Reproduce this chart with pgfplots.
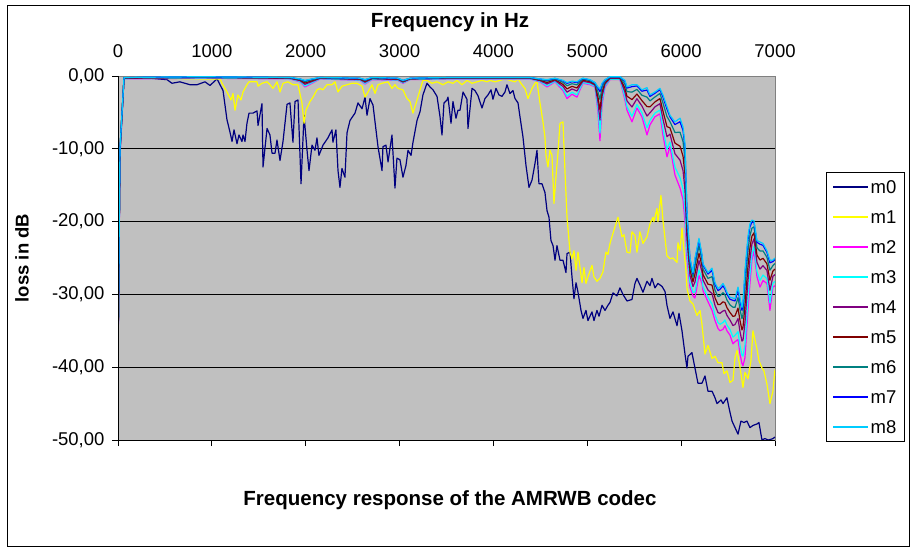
\documentclass[border=0pt]{standalone}
\usepackage{fontspec}
\setmainfont{Liberation Sans}
\usepackage{pgfplots}
\usepackage{pgfplotstable}
\pgfplotsset{compat=1.18}
\definecolor{bg}{HTML}{C0C0C0}
\definecolor{frame}{HTML}{808080}
\definecolor{cm0}{HTML}{000080}
\definecolor{cm1}{HTML}{FFFF00}
\definecolor{cm2}{HTML}{FF00FF}
\definecolor{cm3}{HTML}{00FFFF}
\definecolor{cm4}{HTML}{800080}
\definecolor{cm5}{HTML}{800000}
\definecolor{cm6}{HTML}{008080}
\definecolor{cm7}{HTML}{0000FF}
\definecolor{cm8}{HTML}{00CCFF}

\pgfplotstableread{
f y
0 -39
21 -10
64 -0.3
234 -0.2
522 -0.5
575 -1.0
660 -0.8
767 -1.2
842 -1.2
927 -0.8
980 -1.3
1055 -0.4
1119 -2.0
1161 -6.0
1193 -7.7
1215 -9.0
1236 -7.4
1268 -9.3
1289 -8.1
1321 -9.0
1332 -8.1
1353 -9.0
1374 -6.5
1396 -5.1
1438 -5.1
1481 -4.8
1492 -6.8
1534 -3.8
1545 -12.5
1588 -7.2
1619 -8.1
1641 -10.6
1673 -10.6
1694 -8.8
1726 -11.6
1758 -9.0
1801 -3.9
1832 -3.7
1864 -9.1
1886 -3.5
1918 -3.3
1950 -14.8
1982 -5.4
2014 -10.2
2035 -13.0
2067 -9.5
2099 -10.2
2120 -8.5
2141 -10.9
2184 -9.5
2237 -8.5
2280 -7.4
2290 -9.1
2322 -7.4
2344 -13.0
2365 -15.3
2386 -12.7
2418 -13.9
2440 -7.8
2472 -6.1
2525 -5.1
2557 -3.7
2600 -4.5
2632 -2.9
2653 -5.4
2685 -3.1
2717 -4.0
2770 -9.7
2813 -13.0
2823 -9.7
2855 -9.5
2877 -11.8
2919 -8.1
2951 -15.4
2972 -11.3
3004 -11.5
3036 -13.9
3068 -12.3
3090 -10.2
3122 -10.9
3143 -9.1
3186 -6.1
3218 -4.9
3249 -2.6
3292 -1.0
3324 -1.5
3356 -1.9
3399 -2.8
3431 -5.6
3452 -8.1
3473 -3.7
3505 -3.3
3516 -2.9
3548 -6.5
3569 -3.5
3601 -5.8
3622 -4.7
3644 -4.7
3676 -2.2
3718 -3.2
3729 -7.2
3772 -1.7
3803 -2.0
3835 -2.7
3878 -4.4
3910 -3.1
3942 -2.6
3974 -1.9
3995 -3.2
4027 -1.7
4059 -2.6
4091 -2.8
4123 -2.2
4144 -1.2
4176 -2.4
4208 -2.0
4230 -3.1
4262 -3.7
4283 -5.6
4315 -8.4
4347 -12.3
4379 -15.3
4411 -14.3
4443 -12.0
4464 -10.2
4485 -14.8
4517 -14.8
4549 -16.0
4571 -18.5
4592 -19.4
4613 -22.6
4635 -23.3
4656 -25.3
4677 -23.3
4709 -25.3
4741 -25.3
4773 -27.0
4784 -24.4
4816 -24.2
4837 -27.6
4858 -30.6
4880 -28.4
4901 -29.7
4933 -32.2
4954 -33.3
4986 -32.2
5007 -33.6
5050 -32.4
5071 -33.6
5103 -32.2
5125 -33.0
5157 -31.5
5189 -32.2
5220 -31.5
5242 -31.1
5274 -29.8
5316 -30.2
5348 -29.1
5380 -30.0
5423 -30.9
5476 -30.7
5508 -28.5
5529 -27.8
5561 -28.7
5593 -29.7
5636 -28.2
5668 -28.8
5689 -27.8
5721 -29.1
5753 -28.5
5796 -28.9
5828 -29.6
5849 -31.5
5881 -33.3
5913 -32.4
5956 -34.3
5977 -32.6
6009 -35.0
6041 -38.2
6062 -40.1
6073 -38.5
6115 -38.0
6147 -40.1
6179 -42.2
6222 -42.2
6254 -41.2
6286 -43.3
6329 -43.3
6361 -44.2
6382 -45.0
6425 -44.5
6446 -45.0
6488 -44.2
6510 -45.6
6542 -47.4
6574 -48.3
6606 -49.2
6637 -47.4
6669 -47.6
6701 -47.4
6733 -48.3
6765 -48.0
6808 -47.8
6829 -47.6
6861 -50.0
6893 -49.8
6925 -50.0
6957 -49.9
6978 -49.8
7000 -49.6
}\mzero

\pgfplotstableread{
f y
0 -39
21 -10
64 -0.2
341 -0.3
874 -0.4
1087 -0.4
1108 -1.0
1161 -2.2
1204 -3.3
1225 -2.4
1247 -4.7
1278 -2.6
1310 -3.3
1332 -2.2
1374 -1.2
1396 -0.8
1481 -0.8
1492 -1.4
1534 -1.0
1588 -0.8
1619 -1.2
1651 -1.7
1694 -0.8
1726 -2.2
1758 -1.0
1811 -0.8
1864 -1.2
1918 -1.2
1960 -3.7
1982 -6.5
2003 -4.7
2046 -3.5
2078 -2.9
2120 -1.9
2152 -1.7
2184 -1.9
2227 -1.2
2280 -1.2
2312 -0.8
2344 -2.2
2386 -1.4
2440 -1.2
2493 -1.0
2546 -1.0
2600 -1.4
2632 -2.9
2664 -2.2
2706 -1.2
2738 -2.4
2770 -1.2
2813 -1.0
2877 -0.8
2919 -1.7
2951 -1.2
2983 -1.7
3036 -1.9
3079 -3.1
3111 -3.5
3143 -5.1
3186 -3.3
3218 -1.9
3249 -0.6
3292 -0.6
3345 -1.0
3399 -0.8
3463 -1.2
3516 -0.8
3569 -1.0
3612 -0.6
3665 -1.2
3718 -0.6
3772 -1.0
3825 -0.8
3878 -0.6
3931 -0.8
3963 -0.6
4017 -0.8
4070 -0.6
4123 -0.4
4176 -0.6
4230 -0.8
4262 -0.4
4304 -1.2
4336 -1.7
4368 -3.1
4411 -1.7
4443 -1.0
4464 -0.8
4496 -3.7
4528 -6.3
4549 -8.4
4560 -10.9
4581 -12.5
4602 -10.2
4624 -10.9
4645 -17.5
4666 -13.9
4688 -10.5
4709 -6.5
4741 -6.3
4762 -13.0
4784 -19.4
4816 -24.2
4837 -25.1
4858 -24.0
4880 -26.7
4901 -24.2
4944 -28.4
4965 -26.3
4986 -28.5
5007 -27.6
5050 -26.0
5071 -27.6
5103 -28.2
5135 -27.8
5167 -26.9
5199 -24.2
5220 -24.5
5242 -23.0
5274 -21.6
5327 -19.4
5370 -22.1
5391 -21.8
5423 -24.2
5455 -24.3
5476 -21.4
5508 -21.9
5529 -24.2
5561 -21.4
5593 -23.0
5636 -22.1
5668 -20.3
5700 -19.4
5710 -20.0
5742 -18.2
5753 -20.0
5785 -16.4
5806 -19.8
5849 -24.7
5881 -25.1
5913 -25.0
5956 -25.6
5966 -22.9
5988 -24.0
6009 -20.9
6030 -24.0
6051 -26.7
6062 -29.2
6094 -30.9
6126 -31.3
6169 -32.9
6201 -32.2
6222 -34.1
6254 -38.2
6286 -37.0
6329 -38.8
6361 -38.5
6393 -39.4
6435 -39.4
6457 -40.9
6488 -40.5
6520 -42.1
6552 -41.8
6574 -38.7
6595 -37.7
6627 -40.0
6659 -42.8
6680 -40.7
6712 -41.6
6744 -39.1
6765 -35.0
6808 -37.5
6829 -39.1
6861 -40.1
6882 -40.5
6914 -42.3
6946 -45.0
6978 -43.3
7000 -40.3
}\mone

\pgfplotstableread{
f m2 m3 m4 m5 m6 m7 m8
0 -40 -39.85 -39.6 -39.4 -39.2 -39.05 -39
21 -11 -10.85 -10.6 -10.4 -10.2 -10.05 -10
64 -0.4 -0.37 -0.32 -0.28 -0.24 -0.21 -0.2
874 -0.3 -0.27 -0.22 -0.18 -0.14 -0.11 -0.1
1832 -0.4 -0.37 -0.32 -0.28 -0.24 -0.21 -0.2
1940 -0.8 -0.74 -0.64 -0.56 -0.48 -0.42 -0.4
1992 -1.5 -1.37 -1.14 -0.96 -0.78 -0.65 -0.6
2067 -1.0 -0.91 -0.76 -0.64 -0.52 -0.43 -0.4
2152 -0.4 -0.37 -0.32 -0.28 -0.24 -0.21 -0.2
2578 -0.6 -0.56 -0.48 -0.42 -0.36 -0.32 -0.3
2632 -1.1 -1.01 -0.86 -0.74 -0.62 -0.53 -0.5
2706 -0.5 -0.46 -0.38 -0.32 -0.26 -0.22 -0.2
2983 -0.6 -0.56 -0.48 -0.42 -0.36 -0.32 -0.3
3036 -1.0 -0.94 -0.84 -0.76 -0.68 -0.62 -0.6
3111 -0.5 -0.47 -0.42 -0.38 -0.34 -0.31 -0.3
3537 -0.4 -0.37 -0.32 -0.28 -0.24 -0.21 -0.2
4389 -0.4 -0.37 -0.32 -0.28 -0.24 -0.21 -0.2
4496 -0.8 -0.74 -0.64 -0.56 -0.48 -0.42 -0.4
4571 -1.5 -1.35 -1.1 -0.9 -0.7 -0.55 -0.5
4656 -0.8 -0.73 -0.6 -0.5 -0.4 -0.33 -0.3
4741 -2.0 -1.79 -1.44 -1.16 -0.88 -0.67 -0.6
4784 -3.1 -2.77 -2.22 -1.78 -1.34 -1.01 -0.9
4837 -2.5 -2.23 -1.78 -1.42 -1.06 -0.79 -0.7
4890 -2.9 -2.59 -2.06 -1.64 -1.22 -0.91 -0.8
4922 -1.9 -1.69 -1.34 -1.06 -0.78 -0.57 -0.5
4954 -1.0 -0.9 -0.72 -0.58 -0.44 -0.34 -0.3
5029 -1.2 -1.1 -0.92 -0.78 -0.64 -0.54 -0.5
5082 -1.5 -1.41 -1.26 -1.14 -1.02 -0.93 -0.9
5114 -5.0 -4.48 -3.6 -2.9 -2.2 -1.68 -1.5
5135 -8.9 -7.84 -6.06 -4.64 -3.22 -2.16 -1.8
5157 -4.0 -3.55 -2.8 -2.2 -1.6 -1.15 -1.0
5189 -1.5 -1.35 -1.1 -0.9 -0.7 -0.55 -0.5
5242 -0.5 -0.44 -0.34 -0.26 -0.18 -0.12 -0.1
5348 -0.5 -0.44 -0.34 -0.26 -0.18 -0.12 -0.1
5401 -3.3 -2.9 -2.22 -1.68 -1.14 -0.74 -0.6
5423 -4.7 -4.22 -3.42 -2.78 -2.14 -1.66 -1.5
5476 -6.3 -5.54 -4.26 -3.24 -2.22 -1.46 -1.2
5529 -4.4 -3.92 -3.12 -2.48 -1.84 -1.36 -1.2
5582 -5.6 -5.05 -4.12 -3.38 -2.64 -2.09 -1.9
5636 -8.1 -7.13 -5.5 -4.2 -2.9 -1.93 -1.6
5668 -6.7 -6.09 -5.06 -4.24 -3.42 -2.81 -2.6
5721 -5.6 -5.09 -4.24 -3.56 -2.88 -2.37 -2.2
5774 -5.2 -4.68 -3.8 -3.1 -2.4 -1.88 -1.7
5806 -8.1 -7.28 -5.9 -4.8 -3.7 -2.88 -2.6
5849 -11.1 -10.07 -8.34 -6.96 -5.58 -4.55 -4.2
5881 -9.7 -9.06 -7.98 -7.12 -6.26 -5.62 -5.4
5934 -13.6 -12.51 -10.68 -9.22 -7.76 -6.67 -6.3
5988 -15.4 -13.96 -11.56 -9.64 -7.72 -6.28 -5.8
6020 -17.0 -15.5 -13.0 -11.0 -9.0 -7.5 -7.0
6041 -20.0 -18.4 -15.72 -13.58 -11.44 -9.84 -9.3
6062 -25.0 -24.03 -22.4 -21.1 -19.8 -18.83 -18.5
6094 -29.0 -28.4 -27.4 -26.6 -25.8 -25.2 -25.0
6126 -30.2 -29.72 -28.92 -28.28 -27.64 -27.16 -27.0
6147 -30.5 -29.68 -28.3 -27.2 -26.1 -25.28 -25.0
6190 -27.4 -26.64 -25.36 -24.34 -23.32 -22.56 -22.3
6222 -28.5 -27.9 -26.9 -26.1 -25.3 -24.7 -24.5
6233 -29.5 -28.95 -28.02 -27.28 -26.54 -25.99 -25.8
6286 -31.0 -30.4 -29.4 -28.6 -27.8 -27.2 -27.0
6329 -32.2 -31.33 -29.88 -28.72 -27.56 -26.69 -26.4
6361 -33.6 -32.82 -31.52 -30.48 -29.44 -28.66 -28.4
6393 -34.7 -33.88 -32.5 -31.4 -30.3 -29.48 -29.2
6414 -35.0 -34.1 -32.6 -31.4 -30.2 -29.3 -29.0
6446 -34.8 -33.86 -32.28 -31.02 -29.76 -28.82 -28.5
6467 -34.3 -33.51 -32.18 -31.12 -30.06 -29.27 -29.0
6488 -35.0 -34.21 -32.88 -31.82 -30.76 -29.97 -29.7
6520 -35.6 -34.82 -33.52 -32.48 -31.44 -30.66 -30.4
6552 -36.8 -35.86 -34.28 -33.02 -31.76 -30.82 -30.5
6574 -36.5 -35.62 -34.14 -32.96 -31.78 -30.9 -30.6
6606 -36.2 -35.12 -33.32 -31.88 -30.44 -29.36 -29.0
6627 -38.2 -37.05 -35.12 -33.58 -32.04 -30.89 -30.5
6648 -39.5 -38.35 -36.42 -34.88 -33.34 -32.19 -31.8
6659 -39.8 -38.48 -36.28 -34.52 -32.76 -31.44 -31.0
6680 -38.7 -36.9 -33.9 -31.5 -29.1 -27.3 -26.7
6712 -32.2 -30.67 -28.12 -26.08 -24.04 -22.51 -22.0
6733 -28.5 -27.27 -25.22 -23.58 -21.94 -20.71 -20.3
6754 -25.3 -24.48 -23.1 -22.0 -20.9 -20.08 -19.8
6776 -24.0 -23.39 -22.36 -21.54 -20.72 -20.11 -19.9
6808 -27.6 -26.85 -25.6 -24.6 -23.6 -22.85 -22.6
6840 -29.0 -28.07 -26.52 -25.28 -24.04 -23.11 -22.8
6872 -28.1 -27.34 -26.06 -25.04 -24.02 -23.26 -23.0
6914 -28.5 -27.83 -26.7 -25.8 -24.9 -24.23 -24.0
6946 -32.2 -31.17 -29.44 -28.06 -26.68 -25.65 -25.3
6978 -29.0 -28.45 -27.52 -26.78 -26.04 -25.49 -25.3
7000 -28.8 -28.23 -27.28 -26.52 -25.76 -25.19 -25.0
}\mrest

\begin{document}
\begin{tikzpicture}
\path[use as bounding box] (-118pt,-111pt) rectangle (794pt,440pt);
\fill[white] (-118pt,-111pt) rectangle (794pt,440pt);
\draw[black, line width=0.9pt] (-111pt,-106pt) rectangle (791pt,435pt);
\begin{axis}[
  at={(0pt,0pt)}, anchor=south west,
  scale only axis, width=657pt, height=364pt,
  xmin=0, xmax=7000, ymin=-50, ymax=0,
  axis background/.style={fill=bg},
  axis line style={draw=frame, line width=0.9pt},
  xtick={0,1000,2000,3000,4000,5000,6000,7000},
  xticklabels={0,1000,2000,3000,4000,5000,6000,7000},
  xticklabel pos=right,
  xtick pos=left,
  xticklabel style={yshift=9pt},
  ytick={-50,-40,-30,-20,-10,0},
  yticklabels={{-50,00},{-40,00},{-30,00},{-20,00},{-10,00},{0,00}},
  ytick pos=left,
  yticklabel style={xshift=-4pt},
  tick align=outside,
  major tick length=6pt,
  tick style={black, line width=0.9pt},
  ymajorgrids,
  major grid style={black, line width=0.9pt},
  tick label style={font=\fontsize{18.5}{20}\selectfont},
  scaled x ticks=false,
  every axis plot/.append style={line width=1.2pt, line join=round},
  legend image code/.code={\draw[#1, line width=1.2pt] (0pt,0pt) -- (35pt,0pt);},
  legend cell align=left,
  legend style={at={(1.0776,0.7363)}, anchor=north west, draw=black, line width=0.9pt,
    fill=white, font=\fontsize{18.5}{20}\selectfont, inner sep=6pt, row sep=13pt,
    nodes={inner sep=2pt, text height=13pt, text depth=0pt}},
]
\addplot[cm0] table[x=f, y=y] {\mzero};
\addlegendentry{m0}
\addplot[cm1] table[x=f, y=y] {\mone};
\addlegendentry{m1}
\addplot[cm2] table[x=f, y=m2] {\mrest};
\addlegendentry{m2}
\addplot[cm3] table[x=f, y=m3] {\mrest};
\addlegendentry{m3}
\addplot[cm4] table[x=f, y=m4] {\mrest};
\addlegendentry{m4}
\addplot[cm5] table[x=f, y=m5] {\mrest};
\addlegendentry{m5}
\addplot[cm6] table[x=f, y=m6] {\mrest};
\addlegendentry{m6}
\addplot[cm7] table[x=f, y=m7] {\mrest};
\addlegendentry{m7}
\addplot[cm8] table[x=f, y=m8] {\mrest};
\addlegendentry{m8}
\end{axis}
\draw[black, line width=0.9pt] (0pt,364pt) -- (0pt,0pt) -- (657pt,0pt);
\node[font=\bfseries\fontsize{20.5}{22}\selectfont] at (332pt,418pt) {Frequency in Hz};
\node[font=\bfseries\fontsize{20.5}{22}\selectfont] at (332pt,-60pt) {Frequency response of the AMRWB codec};
\node[font=\bfseries\fontsize{18.5}{20}\selectfont, rotate=90] at (-96pt,182pt) {loss in dB};
\end{tikzpicture}
\end{document}
